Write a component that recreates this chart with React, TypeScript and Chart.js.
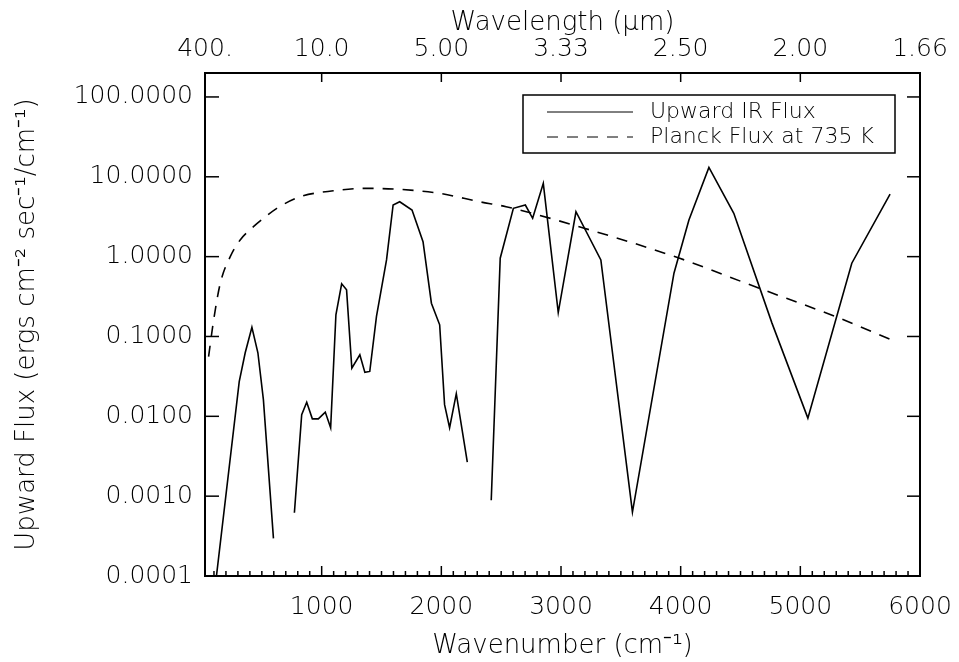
import React, { useEffect, useRef } from "react";
import { Chart, registerables } from "chart.js";

Chart.register(...registerables);

// ---- Data ----
// Upward IR flux; null marks gaps in the measured spectrum
const irWavenumber = [
  111, 311, 361, 417, 467, 513, 597, 680,
  772, 833, 875, 922, 972, 1030, 1075, 1119, 1167, 1208, 1252, 1319, 1361, 1402,
  1458, 1542, 1597, 1652, 1755, 1847, 1917, 1986, 2027, 2069, 2125, 2217, 2320,
  2417, 2492, 2602, 2702, 2763, 2852, 2977, 3125, 3333, 3597, 3944, 4069, 4236,
  4444, 4763, 5063, 5430, 5750,
];
const irFlux = [
  0.000075, 0.0272, 0.0625, 0.13, 0.0625, 0.0162, 0.000296, null,
  0.00062, 0.0105, 0.015, 0.0093, 0.0093, 0.0113, 0.0072, 0.187, 0.456, 0.384, 0.04, 0.059, 0.0355, 0.0365,
  0.178, 0.91, 4.43, 4.87, 3.83, 1.54, 0.261, 0.14, 0.014, 0.0072, 0.0192, 0.00266, null,
  0.00089, 0.955, 4.03, 4.43, 3.02, 8.27, 0.1995, 3.65, 0.91, 0.00063, 0.62, 2.87, 13.1,
  3.49, 0.147, 0.0095, 0.827, 6.08,
];

// Planck flux at 735 K
const planckWavenumber = [
  55, 97, 153, 236, 319, 430, 514, 625, 819, 1097, 1375, 1652, 1986, 2319, 2541,
  3180, 3986, 4640, 5291, 5750,
];
const planckFlux = [
  0.056, 0.16, 0.465, 1.0, 1.62, 2.37, 3.02, 4.03, 5.62, 6.68, 7.16, 6.96, 6.2, 4.87, 4.22,
  2.3, 0.96, 0.41, 0.178, 0.092,
];

// Axis ticks
const bottomTicks = [1000, 2000, 3000, 4000, 5000, 6000];
const topTickWavenumbers = [25, 1000, 2000, 3000, 4000, 5000, 6000];
const topTickLabels = ["400.", "10.0", "5.00", "3.33", "2.50", "2.00", "1.66"];
const yTicks = [0.0001, 0.001, 0.01, 0.1, 1, 10, 100];

const seriesLabels = ["Upward IR Flux", "Planck Flux at 735 K"];

const FAMILY = "'DejaVu Sans', 'Liberation Sans', sans-serif";
const WEIGHT = "200";
const W = 959;
const H = 662;

const idlPlugin = {
  id: "idlAxes",
  afterDraw(chart: any) {
    const { ctx, chartArea, scales } = chart;
    const { left, right, top, bottom } = chartArea;
    ctx.save();
    ctx.strokeStyle = "#000";
    ctx.lineCap = "butt";
    const seg = (x1: number, y1: number, x2: number, y2: number) => {
      ctx.beginPath();
      ctx.moveTo(x1, y1);
      ctx.lineTo(x2, y2);
      ctx.stroke();
    };
    // bottom axis: major + minor ticks (pointing inward)
    ctx.lineWidth = 1.5;
    for (let v = 100; v <= 6000; v += 100) {
      const x = scales.x.getPixelForValue(v);
      const len = v % 1000 === 0 ? 10 : 5;
      seg(x, bottom, x, bottom - len);
    }
    // top axis majors
    topTickWavenumbers.forEach((v) => {
      const x = scales.x2.getPixelForValue(v);
      seg(x, top, x, top + 9);
    });
    // y ticks, left and right
    yTicks.forEach((v) => {
      const y = scales.y.getPixelForValue(v);
      seg(left, y, left + 14, y);
      seg(right, y, right - 13, y);
    });
    // frame
    ctx.lineWidth = 2;
    ctx.strokeRect(left, top, right - left, bottom - top);

    // legend box
    const bw = 372;
    const bh = 58;
    const bx = right - 25 - bw;
    const by = top + 22;
    ctx.lineWidth = 1.5;
    ctx.strokeRect(bx, by, bw, bh);
    ctx.font = `${WEIGHT} 22px ${FAMILY}`;
    ctx.fillStyle = "#000";
    ctx.textBaseline = "middle";
    ctx.textAlign = "left";
    chart.data.datasets.forEach((ds: any, i: number) => {
      const y = by + 17 + i * 25;
      ctx.save();
      ctx.lineWidth = 1;
      ctx.setLineDash(ds.borderDash || []);
      seg(bx + 24, y, bx + 110, y);
      ctx.restore();
      ctx.fillText(ds.label, bx + 127, y);
    });
    ctx.restore();
  },
};

export default function App() {
  const canvasRef = useRef<HTMLCanvasElement | null>(null);

  useEffect(() => {
    const canvas = canvasRef.current;
    if (!canvas) return;
    const irData = irWavenumber.map((x, i) => ({ x, y: irFlux[i] }));
    const planckData = planckWavenumber.map((x, i) => ({ x, y: planckFlux[i] }));

    const tickFont = { family: FAMILY, size: 25, weight: WEIGHT };
    const bottomTickFont = { family: FAMILY, size: 25, weight: WEIGHT, lineHeight: 2.0 };
    const titleFont = { family: FAMILY, size: 26, weight: WEIGHT };

    const chart = new Chart(canvas, {
      type: "line",
      data: {
        datasets: [
          {
            label: seriesLabels[0],
            data: irData as any,
            borderColor: "#000",
            backgroundColor: "#000",
            borderWidth: 1.6,
            pointRadius: 0,
            tension: 0,
            spanGaps: false,
            clip: 0,
          },
          {
            label: seriesLabels[1],
            data: planckData as any,
            borderColor: "#000",
            backgroundColor: "#000",
            borderWidth: 1.6,
            borderDash: [11, 9],
            pointRadius: 0,
            cubicInterpolationMode: "monotone",
            clip: 0,
          },
        ],
      },
      options: {
        responsive: false,
        animation: false,
        devicePixelRatio: 1,
        events: [],
        layout: { padding: { left: 0, right: 39, top: 0, bottom: 0 } },
        plugins: {
          legend: { display: false },
          tooltip: { enabled: false },
        },
        scales: {
          x: {
            type: "linear",
            position: "bottom",
            min: 25,
            max: 6000,
            afterFit: (s: any) => {
              s.height = 86;
            },
            afterBuildTicks: (s: any) => {
              s.ticks = bottomTicks.map((v) => ({ value: v }));
            },
            ticks: {
              autoSkip: false,
              maxRotation: 0,
              padding: 6,
              color: "#000",
              font: bottomTickFont,
              callback: (v: any) => String(v),
            },
            grid: { display: false, drawTicks: false },
            border: { display: false },
            title: {
              display: true,
              text: "Wavenumber (cm\u207B\u00B9)",
              color: "#000",
              font: titleFont,
              padding: { top: 0, bottom: 0 },
            },
          },
          x2: {
            type: "linear",
            position: "top",
            min: 25,
            max: 6000,
            afterFit: (s: any) => {
              s.height = 73;
            },
            afterBuildTicks: (s: any) => {
              s.ticks = topTickWavenumbers.map((v) => ({ value: v }));
            },
            ticks: {
              autoSkip: false,
              maxRotation: 0,
              padding: 9,
              color: "#000",
              font: tickFont,
              callback: (_v: any, i: number) => topTickLabels[i],
            },
            grid: { display: false, drawTicks: false },
            border: { display: false },
            title: {
              display: true,
              text: "Wavelength (\u03BCm)",
              color: "#000",
              font: titleFont,
              padding: { top: 8, bottom: 0 },
            },
          },
          y: {
            type: "logarithmic",
            position: "left",
            min: 0.0001,
            max: Math.pow(10, 2.3),
            afterFit: (s: any) => {
              s.width = 205;
            },
            afterBuildTicks: (s: any) => {
              s.ticks = yTicks.map((v) => ({ value: v, major: true }));
            },
            ticks: {
              autoSkip: false,
              padding: 12,
              color: "#000",
              font: tickFont,
              callback: (v: any) => Number(v).toFixed(4),
            },
            grid: { display: false, drawTicks: false },
            border: { display: false },
            title: {
              display: true,
              text: "Upward Flux (ergs cm\u207B\u00B2 sec\u207B\u00B9/cm\u207B\u00B9)",
              color: "#000",
              font: titleFont,
              padding: { top: 12, bottom: 0 },
            },
          },
        },
      } as any,
      plugins: [idlPlugin],
    });

    return () => {
      chart.destroy();
    };
  }, []);

  return (
    <div
      style={{
        position: "fixed",
        left: 0,
        top: 0,
        width: W,
        height: H,
        background: "#fff",
      }}
    >
      <canvas ref={canvasRef} width={W} height={H} style={{ display: "block" }} />
    </div>
  );
}
